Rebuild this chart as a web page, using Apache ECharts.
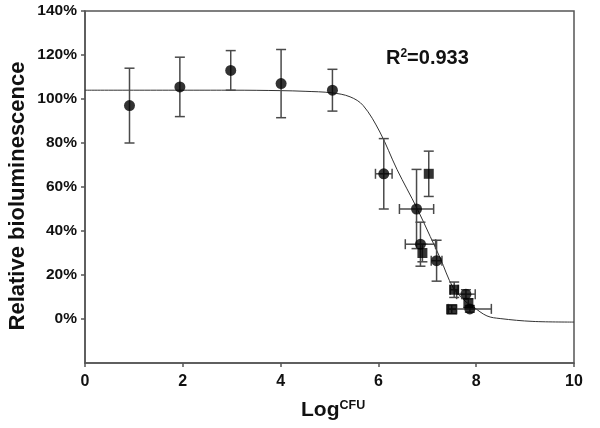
<!DOCTYPE html>
<html>
<head>
<meta charset="utf-8">
<script src="https://cdn.jsdelivr.net/npm/echarts@6/dist/echarts.min.js"></script>
<style>
html,body{margin:0;padding:0;background:#fff;}
#chart{width:600px;height:428px;}
</style>
</head>
<body>
<div id="chart"></div>
<script>
// Data points (Log CFU, relative bioluminescence %)
const pointX     = [0.91, 1.94, 2.98, 4.01, 5.06, 6.11, 7.03, 6.78, 6.86, 6.90, 7.19, 7.55, 7.79, 7.50, 7.87, 7.84];
const pointY     = [97, 105.5, 113, 107, 104, 66, 66, 50, 34, 30, 26.5, 13.3, 11.3, 4.4, 4.6, 7.2];
const pointYErr  = [17, 13.5, 9, 15.5, 9.5, 16, 10.3, 18, 10, 4, 9.3, 3.5, 2, 2, 1.5, 2];
const pointXErr  = [0, 0, 0, 0, 0, 0.17, 0, 0.35, 0.31, 0, 0.11, 0.08, 0.19, 0.1, 0.44, 0];
const pointShape = ['circle','circle','circle','circle','circle','circle','rect','circle','circle','rect','circle','rect','circle','rect','circle','rect'];

// Fitted curve
const curveX = [0, 3, 4, 4.5, 5.05, 5.42, 5.69, 6.03, 6.38, 6.79, 7.06, 7.26, 7.53, 7.79, 7.94, 8.22, 8.49, 9.16, 10];
const curveY = [104, 104, 103.8, 103.5, 102.8, 101, 97, 85, 68, 50.3, 37.5, 27.9, 14.2, 7.8, 5.5, 1.4, 0.2, -1.1, -1.4];

const xTicks = [0, 2, 4, 6, 8, 10];
const yTickValues = [0, 20, 40, 60, 80, 100, 120, 140];

const chart = echarts.init(document.getElementById('chart'));
const FONT = '"Liberation Sans", Arial, sans-serif';
const AXIS = '#555';

const errData = pointX.map((x, i) => [x, pointY[i], pointYErr[i], pointXErr[i]]);
const circleData = [], rectData = [];
pointX.forEach((x, i) => {
  (pointShape[i] === 'rect' ? rectData : circleData).push([x, pointY[i]]);
});
const curveData = curveX.map((x, i) => [x, curveY[i]]);

const option = {
  animation: false,
  backgroundColor: '#fff',
  grid: { left: 85, right: 26, top: 11, bottom: 65, show: true, borderColor: AXIS, borderWidth: 1.5, containLabel: false },
  xAxis: {
    type: 'value', min: 0, max: 10, interval: 2,
    axisLine: { show: true, onZero: false, lineStyle: { color: AXIS, width: 1.5 } },
    axisTick: { show: true, length: 4, lineStyle: { color: AXIS, width: 1.5 } },
    splitLine: { show: false },
    axisLabel: { color: '#111', fontFamily: FONT, fontWeight: 'bold', fontSize: 16, margin: 11,
      customValues: xTicks }
  },
  yAxis: {
    type: 'value', min: -20, max: 140, interval: 20,
    axisLine: { show: true, onZero: false, lineStyle: { color: AXIS, width: 1.5 } },
    axisTick: { show: true, length: 4, lineStyle: { color: AXIS, width: 1.5 }, customValues: yTickValues },
    splitLine: { show: false },
    axisLabel: { color: '#111', fontFamily: FONT, fontWeight: 'bold', fontSize: 15.5, margin: 8,
      customValues: yTickValues, formatter: v => v + '%' }
  },
  graphic: [
    { type: 'text', x: 18, y: 196, rotation: Math.PI / 2,
      style: { text: 'Relative bioluminescence', font: 'bold 22px ' + FONT, fill: '#111', align: 'center', verticalAlign: 'middle' } },
    { type: 'text', x: 301, y: 399,
      style: { text: '{a|Log}{b|CFU}', fill: '#111',
        rich: { a: { font: 'bold 21px ' + FONT, fill: '#111', verticalAlign: 'bottom' },
                b: { font: 'bold 12.5px ' + FONT, fill: '#111', verticalAlign: 'top', padding: [0, 0, 9, 0] } } } },
    { type: 'text', x: 386, y: 48,
      style: { text: '{a|R}{b|2}{a|=0.933}', fill: '#111',
        rich: { a: { font: 'bold 20px ' + FONT, fill: '#111', verticalAlign: 'bottom' },
                b: { font: 'bold 12px ' + FONT, fill: '#111', verticalAlign: 'top', padding: [0, 0, 8, 0] } } } }
  ],
  series: [
    {
      type: 'line', data: curveData, smooth: 0.35, showSymbol: false, silent: true,
      lineStyle: { color: '#333', width: 1 }, z: 2
    },
    {
      type: 'custom', data: errData, encode: { x: 0, y: 1 }, z: 3, silent: true,
      renderItem: function (params, api) {
        const x = api.value(0), y = api.value(1), ye = api.value(2), xe = api.value(3);
        const cap = 5;
        const children = [];
        const st = { stroke: '#4a4a4a', lineWidth: 1.5 };
        if (ye > 0) {
          const t = api.coord([x, y + ye]), b = api.coord([x, y - ye]);
          children.push({ type: 'line', shape: { x1: t[0], y1: t[1], x2: b[0], y2: b[1] }, style: st });
          children.push({ type: 'line', shape: { x1: t[0] - cap, y1: t[1], x2: t[0] + cap, y2: t[1] }, style: st });
          children.push({ type: 'line', shape: { x1: b[0] - cap, y1: b[1], x2: b[0] + cap, y2: b[1] }, style: st });
        }
        if (xe > 0) {
          const l = api.coord([x - xe, y]), r = api.coord([x + xe, y]);
          children.push({ type: 'line', shape: { x1: l[0], y1: l[1], x2: r[0], y2: r[1] }, style: st });
          children.push({ type: 'line', shape: { x1: l[0], y1: l[1] - cap, x2: l[0], y2: l[1] + cap }, style: st });
          children.push({ type: 'line', shape: { x1: r[0], y1: r[1] - cap, x2: r[0], y2: r[1] + cap }, style: st });
        }
        return { type: 'group', children: children };
      }
    },
    { type: 'scatter', data: circleData, symbol: 'circle', symbolSize: 11, itemStyle: { color: '#000' }, z: 4 },
    { type: 'scatter', data: rectData, symbol: 'rect', symbolSize: 10, itemStyle: { color: '#000' }, z: 4 }
  ]
};
chart.setOption(option);
</script>
</body>
</html>
